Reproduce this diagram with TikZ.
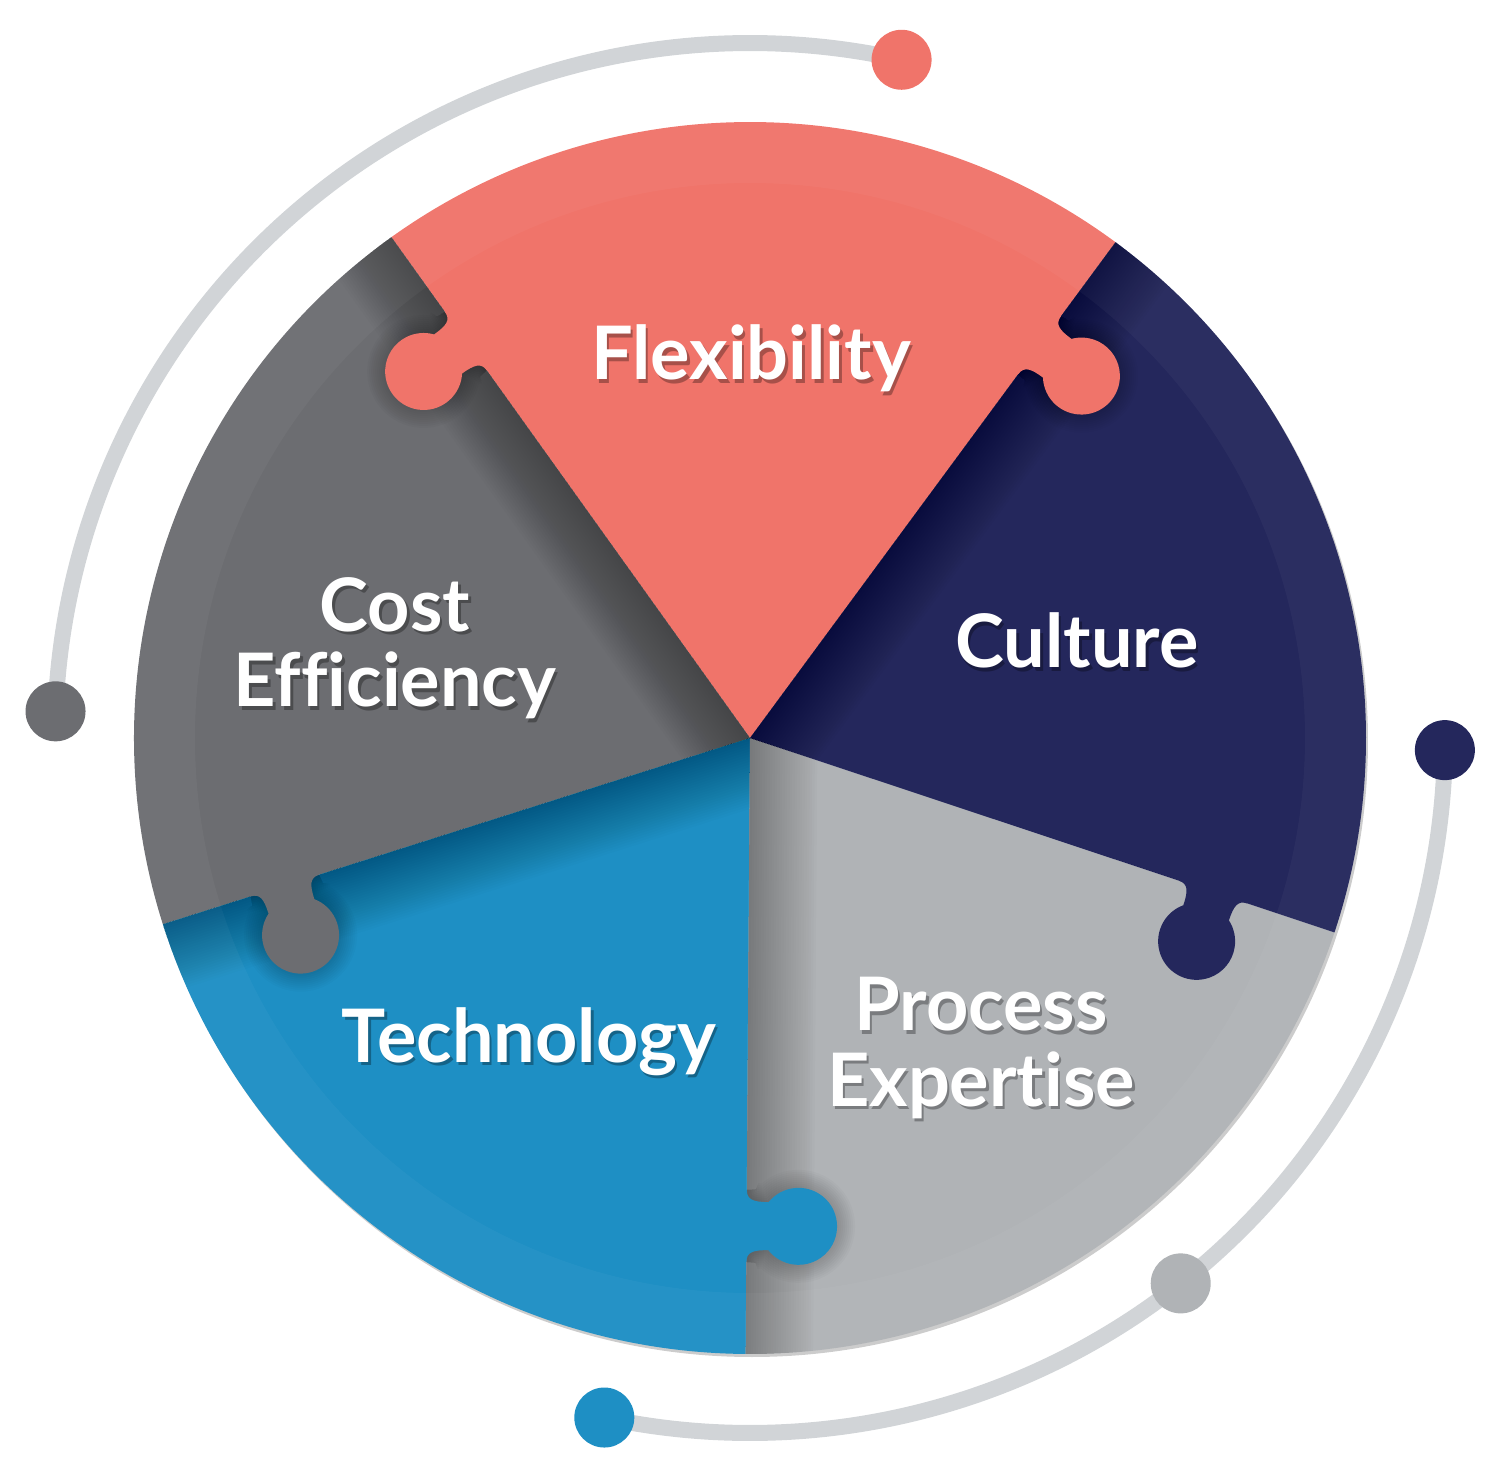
\documentclass[tikz,border=0pt]{standalone}
\usepackage{fontspec}
\setmainfont{Lato}[Ligatures={NoCommon,NoContextual}]
\usetikzlibrary{calc}
\definecolor{flex}{RGB}{240,116,106}
\definecolor{cult}{RGB}{36,39,92}
\definecolor{proc}{RGB}{176,179,182}
\definecolor{cost}{RGB}{108,109,113}
\definecolor{tech}{RGB}{30,143,196}
\definecolor{orbit}{RGB}{209,212,215}

\tikzset{
  dot/.style={circle,minimum size=0.6cm,inner sep=0pt},
  orbitline/.style={draw=orbit,line width=0.16cm},
  lbl/.style={text=white,font=\fontsize{21}{21.5}\selectfont\bfseries,align=center,inner sep=0pt},
  lblsh/.style={lbl,text=black,text opacity=0.3}
}

\newcommand{\sector}[3]{\fill[#3] (0,0) -- (#1:6.16) arc[start angle=#1,end angle=#2,radius=6.16] -- cycle;}
\newcommand{\knobpath}{(4.52,0) .. controls (4.62,0) and (4.64,0.07) .. (4.64,0.219) arc[start angle=231.4,end angle=-51.4,radius=0.385] .. controls (5.12,0.07) and (5.14,0) .. (5.24,0)}
\newcommand{\knob}[3]{\begin{scope}[rotate=#1,yscale=#2]\fill[#3] (4.52,-0.02) -- \knobpath -- (5.24,-0.02) -- cycle;\end{scope}}
\newcommand{\knobshadow}[4]{\begin{scope}
  \clip (0,0) -- (#3:6.16) arc[start angle=#3,end angle=#4,radius=6.16] -- cycle;
  \begin{scope}[rotate=#1,yscale=#2]
    \foreach \w in {0.05,0.1,...,1.4}
      \draw[black,line width=\w cm,opacity=0.012] (0,0) -- (6.3,0);
    \foreach \w in {0.04,0.08,...,0.4}
      \draw[black,line width=\w cm,opacity=0.02,line join=round] \knobpath;
  \end{scope}
\end{scope}}
\newcommand{\plabel}[4]{\node[lblsh,anchor=#2,xshift=0.025cm,yshift=-0.035cm] (#1sh) at #3 {#4};
  \node[lbl,anchor=#2] (#1) at #3 {#4};}

\begin{document}
\begin{tikzpicture}
    \useasboundingbox (-7.5,-7.31) rectangle (7.5,7.38);

    \fill[black!40,opacity=0.5] (0.02,-0.03) circle (6.16);
    \sector{53.6}{125.6}{flex}
    \sector{125.6}{197.6}{cost}
    \sector{197.6}{269.6}{tech}
    \sector{269.6}{341.6}{proc}
    \sector{-18.4}{53.6}{cult}

    \knobshadow{125.6}{1}{125.6}{197.6}
    \knobshadow{53.6}{-1}{-18.4}{53.6}
    \knobshadow{269.6}{1}{269.6}{341.6}
    \knobshadow{197.6}{1}{197.6}{269.6}

    \knob{125.6}{1}{flex}
    \knob{53.6}{-1}{flex}
    \knob{341.6}{-1}{cult}
    \knob{269.6}{1}{tech}
    \knob{197.6}{1}{cost}

    \fill[white,opacity=0.035,even odd rule] (0,0) circle (6.16) (0,0) circle (5.55);

    \plabel{flexl}{base}{(0.01,3.58)}{Flexibility}
    \plabel{cultl}{base}{(3.27,0.70)}{Culture}
    \plabel{techl}{base}{(-2.21,-3.24)}{Technology}
    \plabel{costl}{center}{(-3.55,0.90)}{Cost\\Efficiency}
    \plabel{procl}{center}{(2.31,-3.10)}{Process\\Expertise}

    \node[dot] (dflex) at (77.4:6.95) {};
    \node[dot] (dcost) at (177.8:6.95) {};
    \node[dot] (dcult) at (-1:6.95) {};
    \node[dot] (dproc) at (-51.7:6.95) {};
    \node[dot] (dtech) at (-102.1:6.95) {};
    \draw[orbitline] (dflex.center) arc[start angle=77.4,end angle=177.8,radius=6.95];
    \draw[orbitline] (dcult.center) arc[start angle=-1,end angle=-51.7,radius=6.95];
    \draw[orbitline] (dproc.center) arc[start angle=-51.7,end angle=-102.1,radius=6.95];
    \fill[flex] (dflex) circle (0.3);
    \fill[cost] (dcost) circle (0.3);
    \fill[cult] (dcult) circle (0.3);
    \fill[proc] (dproc) circle (0.3);
    \fill[tech] (dtech) circle (0.3);
\end{tikzpicture}
\end{document}
